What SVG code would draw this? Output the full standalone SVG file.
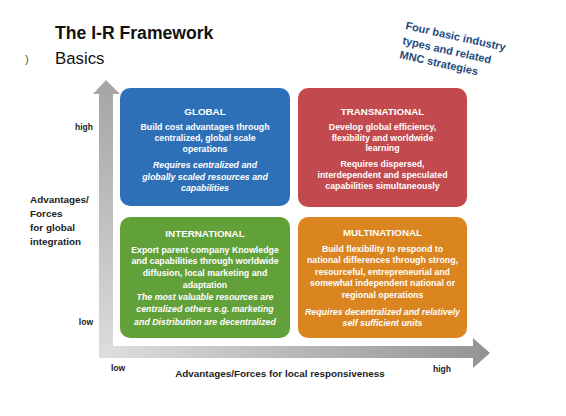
<svg xmlns="http://www.w3.org/2000/svg" width="566" height="416" viewBox="0 0 566 416">
<defs>
<linearGradient id="gv" x1="0" y1="0" x2="0" y2="1">
<stop offset="0" stop-color="#a4a4a4"/>
<stop offset="1" stop-color="#dcdcdc"/>
</linearGradient>
<linearGradient id="gh" x1="0" y1="0" x2="1" y2="0">
<stop offset="0" stop-color="#dedede"/>
<stop offset="1" stop-color="#939393"/>
</linearGradient>
<style>
text{font-family:"Liberation Sans",Arial,sans-serif}
.t{fill:#fff;font-weight:bold;font-size:8.8px;text-anchor:middle}
.h{font-size:9.8px}
.i{font-style:italic}
.ax{fill:#222;font-weight:bold;font-size:8.5px}
.lab{fill:#222;font-weight:bold;font-size:9.9px}
.nt{fill:#1f4a80;font-weight:bold;font-size:11px}
</style>
</defs>
<rect width="566" height="416" fill="#fff"/>
<g id="title">
<text x="55" y="39" font-size="17.6" font-weight="bold" fill="#111">The I-R Framework</text>
<text x="55" y="64" font-size="16.8" fill="#111">Basics</text>
<text x="25" y="63" font-size="11" fill="#555">)</text>
</g>
<g id="note">
<text class="nt" transform="translate(405,29) rotate(12.5)">Four basic industry</text>
<text class="nt" transform="translate(402,44) rotate(12.5)">types and related</text>
<text class="nt" transform="translate(399,58) rotate(12.5)">MNC strategies</text>
</g>
<g id="connectors">
<path d="M99,358 L99,94 L93,94 L106,80 L120,94 L113,94 L113,358 Z" fill="url(#gv)"/>
<path d="M99,346 L473,346 L473,338 L490,353 L473,368 L473,358 L99,358 Z" fill="url(#gh)"/>
</g>
<g id="axis-labels">
<text class="ax" x="93" y="130" text-anchor="end">high</text>
<text class="ax" x="93" y="325" text-anchor="end">low</text>
<text class="lab" x="30" y="203">Advantages/</text>
<text class="lab" x="30" y="217">Forces</text>
<text class="lab" x="30" y="231">for global</text>
<text class="lab" x="30" y="245">integration</text>
<text class="ax" x="111" y="371">low</text>
<text class="ax" x="433" y="372">high</text>
<text class="lab" x="280" y="377" text-anchor="middle">Advantages/Forces for local responsiveness</text>
</g>
<g id="global">
<rect x="120" y="88" width="170" height="118" rx="10" fill="#2e70b8"/>
<text class="t h" x="205" y="115">GLOBAL</text>
<text class="t" x="205" y="130">Build cost advantages through</text>
<text class="t" x="205" y="141">centralized, global scale</text>
<text class="t" x="205" y="152">operations</text>
<text class="t i" x="205" y="168">Requires centralized and</text>
<text class="t i" x="205" y="180">globally scaled resources and</text>
<text class="t i" x="205" y="191">capabilities</text>
</g>
<g id="transnational">
<rect x="298" y="88" width="169" height="119" rx="10" fill="#c24a4e"/>
<text class="t h" x="382.5" y="115">TRANSNATIONAL</text>
<text class="t" x="382.5" y="130">Develop global efficiency,</text>
<text class="t" x="382.5" y="141">flexibility and worldwide</text>
<text class="t" x="382.5" y="151">learning</text>
<text class="t" x="382.5" y="167">Requires dispersed,</text>
<text class="t" x="382.5" y="178">interdependent and speculated</text>
<text class="t" x="382.5" y="189">capabilities simultaneously</text>
</g>
<g id="international">
<rect x="120" y="217" width="170" height="121" rx="10" fill="#62a03a"/>
<text class="t h" x="205" y="237">INTERNATIONAL</text>
<text class="t" x="205" y="253">Export parent company Knowledge</text>
<text class="t" x="205" y="264">and capabilities through worldwide</text>
<text class="t" x="205" y="276">diffusion, local marketing and</text>
<text class="t" x="205" y="288">adaptation</text>
<text class="t i" x="205" y="300">The most valuable resources are</text>
<text class="t i" x="205" y="312">centralized others e.g. marketing</text>
<text class="t i" x="205" y="325">and Distribution are decentralized</text>
</g>
<g id="multinational">
<rect x="298" y="217" width="169" height="121" rx="10" fill="#da8520"/>
<text class="t h" x="382.5" y="236">MULTINATIONAL</text>
<text class="t" x="382.5" y="252">Build flexibility to respond to</text>
<text class="t" x="382.5" y="263">national differences through strong,</text>
<text class="t" x="382.5" y="275">resourceful, entrepreneurial and</text>
<text class="t" x="382.5" y="286">somewhat independent national or</text>
<text class="t" x="382.5" y="298">regional operations</text>
<text class="t i" x="382.5" y="315">Requires decentralized and relatively</text>
<text class="t i" x="382.5" y="326">self sufficient units</text>
</g>
</svg>
